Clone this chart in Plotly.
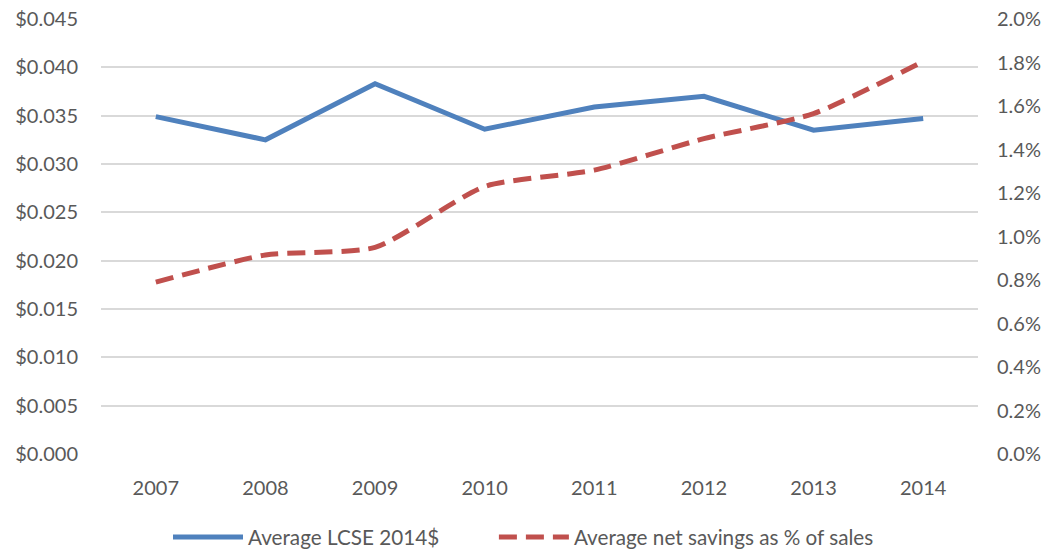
import plotly.graph_objects as go

years = ["2007", "2008", "2009", "2010", "2011", "2012", "2013", "2014"]
lcse = [0.0349, 0.0325, 0.0383, 0.0336, 0.0359, 0.0370, 0.0335, 0.0347]
net_savings = [0.00790, 0.00915, 0.00950, 0.01230, 0.01305, 0.01450, 0.01565, 0.01805]

left_ticks = [i * 0.005 for i in range(10)]
right_ticks = [i * 0.002 for i in range(11)]

FONT = "Lato"
GREY = "#595959"
FS = 20

fig = go.Figure()
fig.add_trace(go.Scatter(
    x=years, y=lcse, name="Average LCSE 2014$", mode="lines",
    line=dict(color="#4F81BD", width=5), yaxis="y", legend="legend",
))
fig.add_trace(go.Scatter(
    x=years, y=net_savings, name="Average net savings as % of sales", mode="lines",
    line=dict(color="#C0504D", width=5, dash="18px,9px", shape="spline", smoothing=0.6),
    yaxis="y2", legend="legend2",
))

legend_common = dict(
    orientation="h", y=-0.191, yanchor="middle", xanchor="left",
    font=dict(family=FONT, size=20.7, color=GREY), itemwidth=70,
    bgcolor="rgba(0,0,0,0)",
)

fig.update_layout(
    width=1052, height=550,
    margin=dict(l=101, r=74, t=19, b=96, autoexpand=False),
    paper_bgcolor="white", plot_bgcolor="white",
    font=dict(family=FONT, size=FS, color=GREY),
    xaxis=dict(
        type="category", range=[-0.5, 7.5], showgrid=False, showline=False,
        zeroline=False, ticks="", ticklabelstandoff=20, automargin=False,
        tickfont=dict(family=FONT, size=FS, color=GREY),
    ),
    yaxis=dict(
        range=[0, 0.045], tickvals=left_ticks, tickformat="$.3f",
        showgrid=True, gridcolor="#D9D9D9", gridwidth=2, zeroline=False,
        showline=False, ticks="", ticklabelstandoff=22, automargin=False,
        tickfont=dict(family=FONT, size=FS, color=GREY),
    ),
    yaxis2=dict(
        range=[0, 0.02], tickvals=right_ticks, tickformat=".1%",
        overlaying="y", side="right", showgrid=False, zeroline=False,
        showline=False, ticks="", ticklabelstandoff=18, automargin=False,
        tickfont=dict(family=FONT, size=FS, color=GREY),
    ),
    showlegend=True,
    legend=dict(x=0.0764, **legend_common),
    legend2=dict(x=0.448, **legend_common),
)

fig.write_html(
    "out.html",
    config={"displayModeBar": False},
    post_script="document.body.style.margin='0';",
)
